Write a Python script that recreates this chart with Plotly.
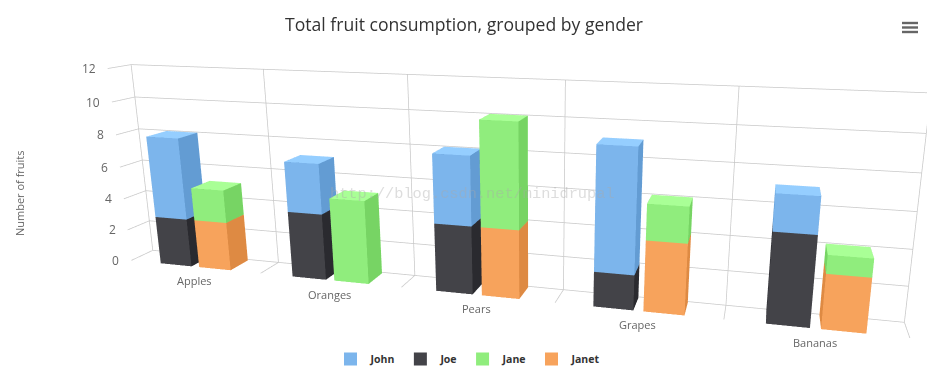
import numpy as np
import plotly.graph_objects as go

categories = ["Apples", "Oranges", "Pears", "Grapes", "Bananas"]
john = [5, 3, 4, 7, 2]
joe = [3, 4, 4, 2, 5]
jane = [2, 5, 6, 2, 1]
janet = [3, 0, 4, 4, 3]
z_ticks = [0, 2, 4, 6, 8, 10, 12]

# Scene canvas: Plotly's field of view is fixed, so the long lens of the reference needs a larger canvas.
PW, PH, TOP = 1068, 733, 174
def px(x): return x/PW
def py(y): return 1-(y+TOP)/PH

ex, ey, ez, yaw, pitch, D, H = 0.3319, -0.9945, 0.2721, -0.2597, -0.2603, 0.0447, 0.2636
eye = dict(x=ex, y=ey, z=ez)
fw = np.array([np.sin(yaw)*np.cos(pitch), np.cos(yaw)*np.cos(pitch), np.sin(pitch)])
cen = np.array([ex, ey, ez]) + fw
center = dict(x=cen[0], y=cen[1], z=cen[2])

COL = {"John": ("#7cb5ec", "#95ceff", "#639cd3"), "Joe": ("#434348", "#5c5c61", "#2a2a2f"),
       "Jane": ("#90ed7d", "#a9ff96", "#77d464"), "Janet": ("#f7a35c", "#ffbc75", "#de8a43")}


def bars(name, values, base, x0, x1, d0=0.0, d1=0.92):
    base_c, top_c, side_c = COL[name]
    vx, vy, vz, i, j, k, fc = [], [], [], [], [], [], []
    for c, (v, b) in enumerate(zip(values, base)):
        if v == 0:
            continue
        n = len(vx)
        for zz in (b, b+v):
            for xx, yy in ((c+x0, d0), (c+x1, d0), (c+x1, d1), (c+x0, d1)):
                vx.append(xx); vy.append(yy); vz.append(zz)
        quads = [((0, 1, 5, 4), base_c), ((4, 5, 6, 7), top_c), ((1, 2, 6, 5), side_c),
                 ((3, 0, 4, 7), side_c), ((2, 3, 7, 6), base_c), ((0, 1, 2, 3), base_c)]
        for q, col in quads:
            i += [n+q[0], n+q[0]]; j += [n+q[1], n+q[2]]; k += [n+q[2], n+q[3]]; fc += [col, col]
    return go.Mesh3d(x=vx, y=vy, z=vz, i=i, j=j, k=k, facecolor=fc, flatshading=True, hoverinfo="skip",
                     showlegend=False, showscale=False,
                     lighting=dict(ambient=1, diffuse=0, specular=0, fresnel=0, roughness=1))


fig = go.Figure()
n = len(categories)
gx, gy, gz = [], [], []
for t in z_ticks:
    gx += [0, n, None, 0, 0, None]; gy += [1, 1, None, 0, 1, None]; gz += [t, t, None, t, t, None]
for c in range(n+1):
    gx += [c, c, None, c, c, None]; gy += [1, 1, None, 0, 1, None]; gz += [0, z_ticks[-1], None, 0, 0, None]
fig.add_trace(go.Scatter3d(x=gx, y=gy, z=gz, mode="lines", line=dict(color="#c8c8c8", width=1.5),
                           hoverinfo="skip", showlegend=False))
zero = [0]*n
fig.add_trace(bars("Joe", joe, zero, .235, .475))
fig.add_trace(bars("John", john, joe, .235, .475))
fig.add_trace(bars("Janet", janet, zero, .535, .775))
fig.add_trace(bars("Jane", jane, janet, .535, .775))
for name in ["John", "Joe", "Jane", "Janet"]:
    fig.add_trace(go.Scatter3d(x=[None], y=[None], z=[None], mode="markers", name=name,
                               marker=dict(symbol="square", size=13, color=COL[name][0])))

F1 = "Open Sans"
ann = [dict(x=0, y=0, z=t, text=str(t), showarrow=False, xanchor="right", xshift=-10,
            font=dict(family=F1, size=12, color="#666")) for t in z_ticks]
ann += [dict(x=c+.5, y=0, z=0, text=categories[c], showarrow=False, yshift=-14,
             font=dict(family=F1, size=11, color="#666")) for c in range(n)]
ax = dict(visible=False, showspikes=False)
fig.update_layout(
    width=PW, height=PH, margin=dict(l=0, r=0, t=0, b=0), paper_bgcolor="white",
    title=dict(text="Total fruit consumption, grouped by gender", x=px(464), xanchor="center", y=py(25),
               yanchor="middle", font=dict(family=F1, size=17.6, color="#333")),
    legend=dict(orientation="h", x=px(468), xanchor="center", y=py(359), yanchor="middle", itemwidth=30,
                font=dict(family=F1, size=10.5, color="#333", weight="bold")),
    scene=dict(domain=dict(x=[0, 1], y=[0, 1]), xaxis=dict(range=[0, n], **ax), yaxis=dict(range=[0, 1], **ax),
               zaxis=dict(range=[0, 12], **ax), aspectmode="manual", aspectratio=dict(x=1, y=D, z=H),
               camera=dict(eye=eye, center=center, up=dict(x=0, y=0, z=1)), annotations=ann, dragmode=False),
    annotations=[dict(xref="paper", yref="paper", x=px(19), y=py(193), text="Number of fruits", textangle=-90,
                      xanchor="center", yanchor="middle", showarrow=False, font=dict(family=F1, size=11, color="#666")),
                 dict(xref="paper", yref="paper", x=px(472), y=py(194), text="http://blog.csdn.net/minidrupal",
                      showarrow=False, font=dict(family="Liberation Mono", size=15.3, color="rgba(170,170,170,0.4)"))],
    shapes=[dict(type="rect", xref="paper", yref="paper", x0=px(902), x1=px(918), y0=py(yy-1.2),
                 y1=py(yy+1.2), fillcolor="#666", line=dict(width=0)) for yy in (23, 27.5, 32)],
)
fig.write_html("out.html", config=dict(displayModeBar=False),
               post_script=f"document.documentElement.style.overflow='hidden';document.body.style.overflow='hidden';document.body.style.margin='-{TOP}px 0 0 0';")
